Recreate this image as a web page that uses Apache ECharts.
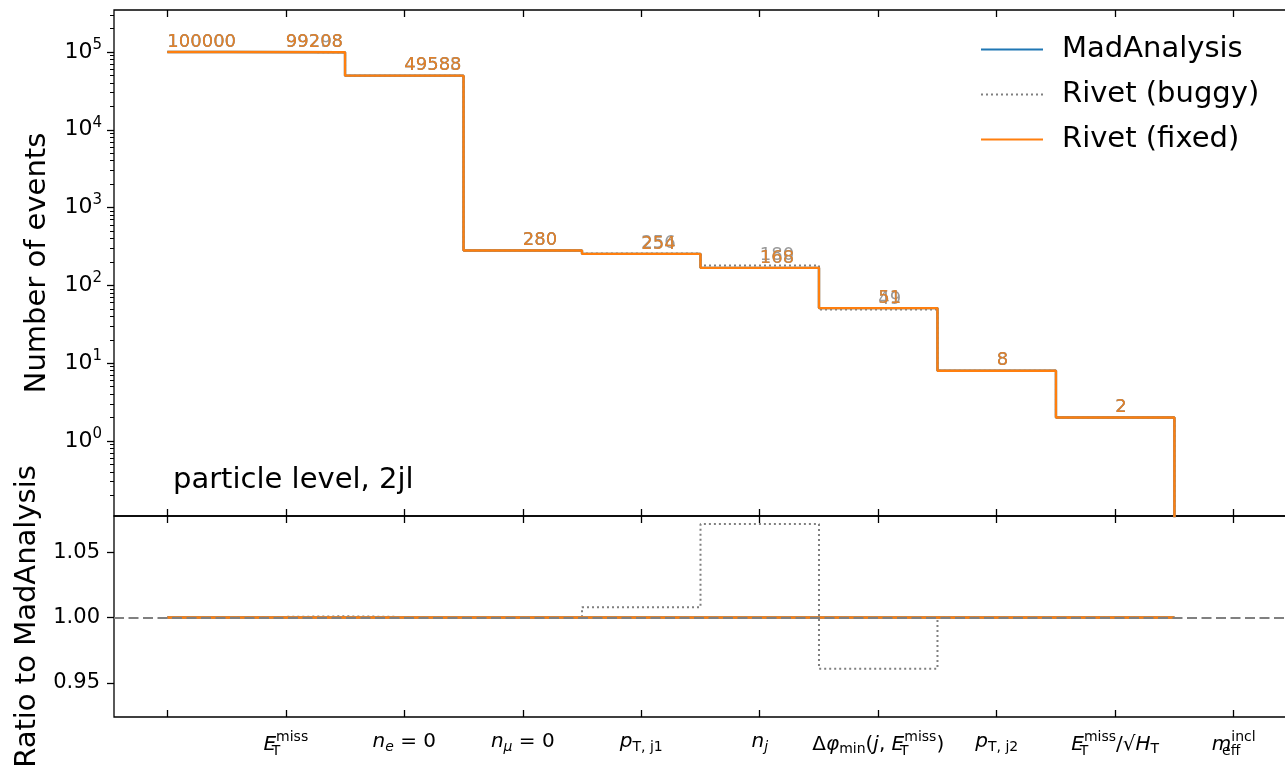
<!DOCTYPE html>
<html>
<head>
<meta charset="utf-8">
<script src="https://cdn.jsdelivr.net/npm/echarts@6/dist/echarts.min.js"></script>
<style>
  html, body { margin: 0; padding: 0; background: #fff; }
  #chart { width: 1285px; height: 772px; }
</style>
</head>
<body>
<div id="chart"></div>
<script>
// ---------------- data ----------------
const categories = ['initial', 'ETmiss', 'ne0', 'nmu0', 'pTj1', 'nj', 'dphimin', 'pTj2', 'ETmissSqrtHT', 'meffincl'];
const tickLabels = [
  '',
  '{it|E}{s0|T}{sp|miss}',
  '{it|n}{sbi|e}{rm| = 0}',
  '{it|n}{sbi|μ}{rm| = 0}',
  '{it|p}{sb|T, j1}',
  '{it|n}{sbi|j}',
  '{rm|Δ}{it|φ}{sb|min}{rm|(}{it|j}{rm|, }{it|E}{s0|T}{sp|miss}{rm|)}',
  '{it|p}{sb|T, j2}',
  '{it|E}{s0|T}{sp|miss}{rm|/√}{it|H}{sb|T}',
  '{it|m}{s0|eff}{sp|incl}'
];
const madAnalysis = [100000, 99208, 49588, 280, 254, 168, 51, 8, 2, 0];
const rivetBuggy  = [100000, 99298, 49583, 280, 256, 180, 49, 8, 2, 0];
const rivetFixed  = [100000, 99208, 49588, 280, 254, 168, 51, 8, 2, 0];
const mainTicks  = [1, 10, 100, 1000, 10000, 100000];
const ratioTicks = [0.95, 1.00, 1.05];

// ---------------- helpers ----------------
const FONT = 'DejaVu Sans';
const LOG_FLOOR = 1e-3; // zero counts on a log axis fall below the plot
function stepMid(vals) {
  const n = vals.length, pts = [[0, vals[0]]];
  for (let i = 0; i < n - 1; i++) {
    pts.push([i + 0.5, vals[i]]);
    pts.push([i + 0.5, vals[i + 1]]);
  }
  pts.push([n - 1, vals[n - 1]]);
  return pts;
}
const forLog = v => (v === null ? null : (v > 0 ? v : LOG_FLOOR));
const ratio = (a, b) => a.map((v, i) => (b[i] > 0 ? v / b[i] : null));
const minorTicks = [];
for (let e = -1; e <= 5; e++) for (let k = 2; k <= 9; k++) minorTicks.push(k * Math.pow(10, e));
const xTickVals = categories.map((c, i) => i);

const colors = { ma: '#1f77b4', bug: '#808080', fix: '#ff7f0e' };
const richX = {
  it:  { fontFamily: FONT, fontSize: 20, fontStyle: 'italic', color: '#000' },
  rm:  { fontFamily: FONT, fontSize: 20, color: '#000' },
  sb:  { fontFamily: FONT, fontSize: 14, color: '#000', padding: [10, 0, 0, 0] },
  sbi: { fontFamily: FONT, fontSize: 14, fontStyle: 'italic', color: '#000', padding: [10, 0, 0, 0] },
  s0:  { fontFamily: FONT, fontSize: 14, color: '#000', padding: [14, 0, 0, 0], width: 0.01 },
  sp:  { fontFamily: FONT, fontSize: 14, color: '#000', padding: [0, 0, 15, 0] }
};

function lineSeries(name, pts, color, dotted, xi, yi, z) {
  return {
    name, type: 'line', xAxisIndex: xi, yAxisIndex: yi, data: pts,
    showSymbol: false, symbol: 'none', connectNulls: false, clip: true, z,
    lineStyle: { color, width: dotted ? 2 : 2.4, type: dotted ? [2, 3] : 'solid', cap: 'butt' },
    itemStyle: { color }, silent: true
  };
}
function textSeries(vals, color, z) {
  return {
    name: 'txt' + color, type: 'scatter', xAxisIndex: 0, yAxisIndex: 0, z,
    data: vals.map((v, i) => [i, v]).filter(p => p[1] > 0),
    symbolSize: 0, itemStyle: { opacity: 0 }, silent: true,
    label: {
      show: true, position: [0, -1], align: 'left', verticalAlign: 'bottom',
      formatter: p => String(p.value[1]), color, opacity: 0.8,
      fontFamily: FONT, fontSize: 18
    }
  };
}

const chart = echarts.init(document.getElementById('chart'), null, { renderer: 'canvas' });
const grids = [
  { left: 114, top: 10, width: 1173, height: 506, show: true, borderColor: '#000', borderWidth: 1.3,
    backgroundColor: 'transparent', outerBoundsMode: 'none', containLabel: false },
  { left: 114, top: 516, width: 1173, height: 201, show: true, borderColor: '#000', borderWidth: 1.3,
    backgroundColor: 'transparent', outerBoundsMode: 'none', containLabel: false }
];
function xAxis(gi, pos, labels) {
  return {
    type: 'value', gridIndex: gi, position: pos, min: -0.45, max: 9.45,
    axisLine: { show: false, onZero: false }, splitLine: { show: false },
    axisTick: { show: true, inside: true, length: 7, customValues: xTickVals, lineStyle: { color: '#000', width: 1.3 } },
    axisLabel: labels ? {
      show: true, customValues: xTickVals, margin: 13,
      formatter: v => tickLabels[Math.round(v)], rich: richX
    } : { show: false }
  };
}
const option = {
  animation: false,
  backgroundColor: '#fff',
  grid: grids,
  legend: {
    data: ['MadAnalysis', 'Rivet (buggy)', 'Rivet (fixed)'],
    orient: 'vertical', left: 975, top: 30,
    itemWidth: 62, itemHeight: 29, itemGap: 16,
    itemStyle: { opacity: 0 },
    textStyle: { fontFamily: FONT, fontSize: 29, color: '#000', padding: [0, 0, 0, 14] },
    selectedMode: false
  },
  xAxis: [ xAxis(0, 'bottom', false), xAxis(0, 'top', false), xAxis(1, 'bottom', true), xAxis(1, 'top', false) ],
  yAxis: [
    {
      type: 'log', gridIndex: 0, position: 'left', min: 0.1086, max: 346000, logBase: 10,
      name: 'Number of events', nameLocation: 'middle', nameGap: 62,
      nameTextStyle: { fontFamily: FONT, fontSize: 29, color: '#000' },
      axisLine: { show: false, onZero: false }, splitLine: { show: false }, minorTick: { show: false },
      axisTick: { show: true, length: 7, customValues: mainTicks, lineStyle: { color: '#000', width: 1.3 } },
      axisLabel: {
        customValues: mainTicks, margin: 12,
        formatter: v => '{b|10}{sp|' + Math.round(Math.log10(v)) + '}',
        rich: {
          b:  { fontFamily: FONT, fontSize: 22, color: '#000' },
          sp: { fontFamily: FONT, fontSize: 15, color: '#000', padding: [0, 0, 14, 0] }
        }
      }
    },
    {
      type: 'log', gridIndex: 0, position: 'left', offset: 0, min: 0.1086, max: 346000, logBase: 10,
      axisLine: { show: false, onZero: false }, splitLine: { show: false }, axisLabel: { show: false },
      axisTick: { show: true, length: 4, customValues: minorTicks, lineStyle: { color: '#000', width: 1 } }
    },
    {
      type: 'value', gridIndex: 1, position: 'left', min: 0.9239, max: 1.0776,
      name: 'Ratio to MadAnalysis', nameLocation: 'middle', nameGap: 62,
      nameTextStyle: { fontFamily: FONT, fontSize: 29, color: '#000' },
      axisLine: { show: false, onZero: false }, splitLine: { show: false },
      axisTick: { show: true, length: 7, customValues: ratioTicks, lineStyle: { color: '#000', width: 1.3 } },
      axisLabel: {
        customValues: ratioTicks, margin: 14, formatter: v => v.toFixed(2),
        fontFamily: FONT, fontSize: 21, color: '#000'
      }
    }
  ],
  graphic: [
    { type: 'text', left: 173, top: 466, z: 100,
      style: { text: 'particle level, 2jl', fontFamily: FONT, fontSize: 29, fill: '#000' } }
  ],
  series: [
    lineSeries('MadAnalysis', stepMid(madAnalysis).map(p => [p[0], forLog(p[1])]), colors.ma, false, 0, 0, 2),
    lineSeries('Rivet (buggy)', stepMid(rivetBuggy).map(p => [p[0], forLog(p[1])]), colors.bug, true, 0, 0, 3),
    lineSeries('Rivet (fixed)', stepMid(rivetFixed).map(p => [p[0], forLog(p[1])]), colors.fix, false, 0, 0, 4),
    textSeries(madAnalysis, colors.ma, 5),
    textSeries(rivetBuggy, colors.bug, 6),
    textSeries(rivetFixed, colors.fix, 7),
    lineSeries('MadAnalysis', stepMid(ratio(madAnalysis, madAnalysis)), colors.ma, false, 2, 2, 2),
    lineSeries('Rivet (buggy)', stepMid(ratio(rivetBuggy, madAnalysis)), colors.bug, true, 2, 2, 3),
    Object.assign(lineSeries('Rivet (fixed)', stepMid(ratio(rivetFixed, madAnalysis)), colors.fix, false, 2, 2, 4), {
      markLine: {
        silent: true, symbol: 'none', z: 10, label: { show: false },
        lineStyle: { color: '#808080', type: [10, 4.5], width: 2.2 },
        data: [{ yAxis: 1 }]
      }
    })
  ]
};
chart.setOption(option);
</script>
</body>
</html>
